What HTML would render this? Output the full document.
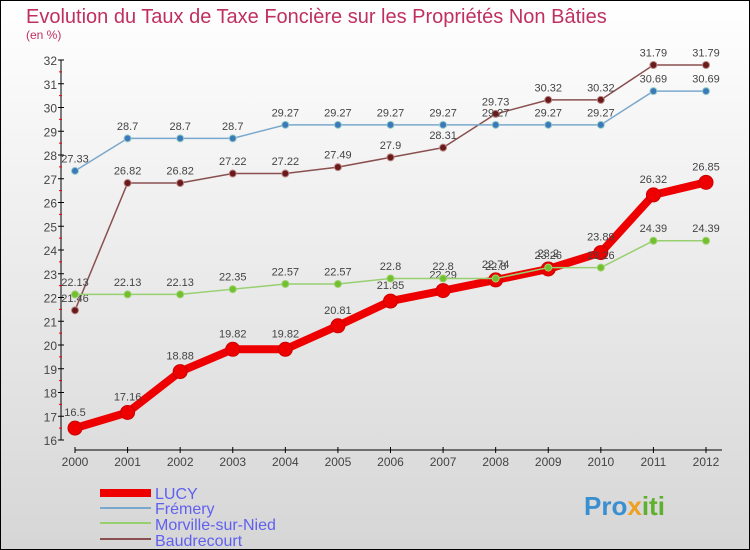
<!DOCTYPE html>
<html><head><meta charset="utf-8"><style>
body{margin:0}
#c{width:750px;height:550px;position:relative;box-sizing:border-box;border:1px solid #000;background:linear-gradient(#fff,#d6d6d6);font-family:"Liberation Sans",sans-serif;overflow:hidden}
</style></head><body>
<div id="c">
<svg id="s" width="750" height="550" style="position:absolute;left:-1px;top:-1px">
<text x="26" y="23" font-size="20" fill="#c0305f">Evolution du Taux de Taxe Foncière sur les Propriétés Non Bâties</text>
<text x="26" y="39" font-size="12" fill="#c0305f">(en %)</text>
<g id="ax"></g><g id="ser"></g>
<g>
<rect x="100" y="489" width="51" height="8" fill="#e00"/>
<text x="155" y="499" font-size="16" fill="#6060f0">LUCY</text>
<rect x="100" y="507" width="51" height="2" fill="#7aa8cc"/>
<text x="155" y="514" font-size="16" fill="#6060f0">Frémery</text>
<rect x="100" y="522" width="51" height="2" fill="#98d070"/>
<text x="155" y="530" font-size="16" fill="#6060f0">Morville-sur-Nied</text>
<rect x="100" y="538" width="51" height="2" fill="#8a5050"/>
<text x="155" y="546" font-size="16" fill="#6060f0">Baudrecourt</text>
</g>
<text x="584" y="515" font-size="26" font-weight="bold" fill="#3a8fd0">Pro<tspan fill="#f0a020">x</tspan><tspan fill="#60b030">iti</tspan></text>
</svg>
</div>
<script>
const years=[2000,2001,2002,2003,2004,2005,2006,2007,2008,2009,2010,2011,2012];
const yTicks=[16,17,18,19,20,21,22,23,24,25,26,27,28,29,30,31,32];
const lucy=[16.5,17.16,18.88,19.82,19.82,20.81,21.85,22.29,22.74,23.2,23.89,26.32,26.85];
const fremery=[27.33,28.7,28.7,28.7,29.27,29.27,29.27,29.27,29.27,29.27,29.27,30.69,30.69];
const morville=[22.13,22.13,22.13,22.35,22.57,22.57,22.8,22.8,22.8,23.26,23.26,24.39,24.39];
const baudrecourt=[21.46,26.82,26.82,27.22,27.22,27.49,27.9,28.31,29.73,30.32,30.32,31.79,31.79];
const NS="http://www.w3.org/2000/svg";
const X=i=>75+i*(706-75)/12, Y=v=>440-(v-16)*23.75;
function mk(t,a,p){const e=document.createElementNS(NS,t);for(const k in a)e.setAttribute(k,a[k]);p.appendChild(e);return e;}
const ax=document.getElementById('ax');
let l=mk('line',{x1:61,y1:60,x2:61,y2:440,stroke:'#000'},ax);


l=mk('line',{x1:75,y1:450,x2:722,y2:450,stroke:'#000'},ax);


yTicks.forEach(v=>{
 mk('line',{x1:58,x2:64,y1:Y(v),y2:Y(v),stroke:'#000'},ax);
 if(v<32)mk('line',{x1:59,x2:62,y1:Y(v+0.5),y2:Y(v+0.5),stroke:'#e00'},ax);
 const t=mk('text',{x:57,y:Y(v)+5,'text-anchor':'end','font-size':12,fill:'#444'},ax);t.textContent=v;
 
 
});
years.forEach((y,i)=>{
 mk('line',{x1:X(i),x2:X(i),y1:447,y2:453,stroke:'#000'},ax);
 const t=mk('text',{x:X(i),y:466,'text-anchor':'middle','font-size':12,fill:'#444'},ax);t.textContent=y;
 
 
});
const ser=document.getElementById('ser');
function draw(data,name,col,w,r,dot,stroke){
 const g=mk('g',{},ser);
 
 
 const p=mk('polyline',{points:data.map((v,i)=>X(i)+','+Y(v)).join(' '),fill:'none',stroke:col,'stroke-width':w,'stroke-linejoin':'round'},g);
 
 
 data.forEach((v,i)=>{
  const c=mk('circle',{cx:X(i),cy:Y(v),r:r,fill:dot,stroke:stroke,'stroke-width':1},g);
  
  
  const t=mk('text',{x:X(i),y:Y(v)-(r+5),'text-anchor':'middle','font-size':11,fill:'#444'},g);t.textContent=v;
  
  
 });
}
draw(baudrecourt,'baudrecourt','#8a5050',1.5,3.5,'#6a1a1a','#bb8888');
draw(fremery,'fremery','#7aa8cc',1.5,3.5,'#3a7ab8','#9cc');
draw(lucy,'lucy','#e00',8,7,'#e00','#c00');
draw(morville,'morville','#98d070',1.5,3.5,'#70c030','#a0d070');
</script>
</body></html>
